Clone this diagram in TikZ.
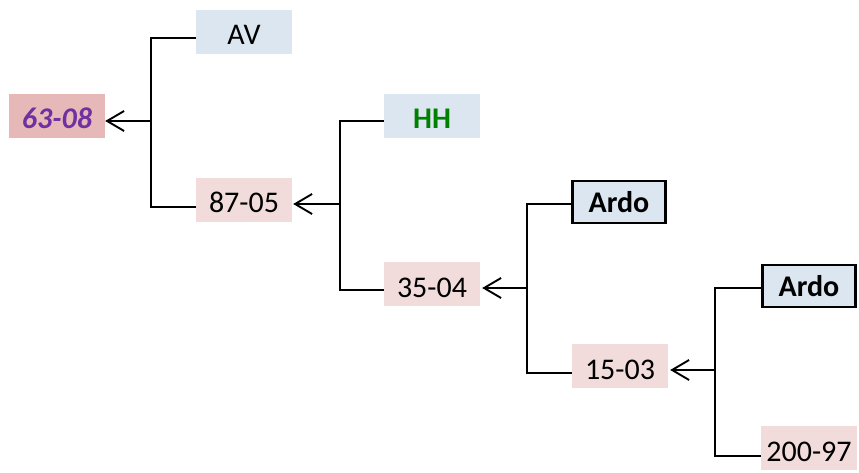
\documentclass[tikz,border=0pt]{standalone}
\usepackage{fontspec}
\setmainfont{Carlito}
\usetikzlibrary{arrows.meta}
\definecolor{boxblue}{HTML}{DCE6F1}
\definecolor{boxpink}{HTML}{F2DCDB}
\definecolor{boxrose}{HTML}{E6B9B8}
\definecolor{txtpurple}{HTML}{7030A0}
\definecolor{txtgreen}{HTML}{008000}
\begin{document}
\begin{tikzpicture}[x=1pt,y=-1pt,
  box/.style={inner sep=0pt,minimum width=96pt,minimum height=44pt,
    text height=26pt,text depth=0pt,
    font=\fontsize{30}{34}\selectfont},
  bluebox/.style={box,fill=boxblue},
  pinkbox/.style={box,fill=boxpink},
  rootbox/.style={box,fill=boxrose,text=txtpurple,
    font=\fontsize{30}{34}\selectfont\bfseries\itshape},
  framedbox/.style={box,fill=boxblue,draw=black,line width=2.6pt,
    text height=20pt,
    minimum width=93pt,minimum height=42pt,font=\fontsize{30}{34}\selectfont\bfseries},
  branch/.style={draw=black,line width=1.4pt},
  result/.style={draw=black,line width=1.9pt,
    -{Straight Barb[length=17pt,width=20pt,line width=1.9pt]}}]
\useasboundingbox (0,0) rectangle (859,473);

% leaves and intermediate results
\node[rootbox]   (r0) at (57,116)  {63-08};
\node[bluebox]   (av) at (244,32)  {AV};
\node[pinkbox]   (r1) at (244,200) {87-05};
\node[bluebox,text=txtgreen,font=\fontsize{30}{34}\selectfont\bfseries] (hh) at (432,116) {HH};
\node[pinkbox]   (r2) at (432,284) {35-04};
\node[framedbox] (a1) at (619,202) {Ardo};
\node[pinkbox]   (r3) at (620,366) {15-03};
\node[framedbox] (a2) at (809,286) {Ardo};
\node[pinkbox]   (r4) at (809,448) {200-97};

% fork points
\coordinate (f1) at (151,121);
\coordinate (f2) at (340,204);
\coordinate (f3) at (527,288);
\coordinate (f4) at (715,370);

% level 1
\draw[branch] ([yshift=-6pt]av.west) -| (f1) |- ([yshift=-7pt]r1.west);
\draw[result] (f1) -- ([yshift=-5pt]r0.east);
% level 2
\draw[branch] ([yshift=-5pt]hh.west) -| (f2) |- ([yshift=-6pt]r2.west);
\draw[result] (f2) -- ([yshift=-4pt,xshift=1pt]r1.east);
% level 3
\draw[branch] ([yshift=-2pt]a1.west) -| (f3) |- ([yshift=-7pt]r3.west);
\draw[result] (f3) -- ([yshift=-4pt,xshift=2pt]r2.east);
% level 4
\draw[branch] ([yshift=-2pt]a2.west) -| (f4) |- ([yshift=-8pt]r4.west);
\draw[result] (f4) -- ([yshift=-4pt,xshift=2pt]r3.east);
\end{tikzpicture}
\end{document}
